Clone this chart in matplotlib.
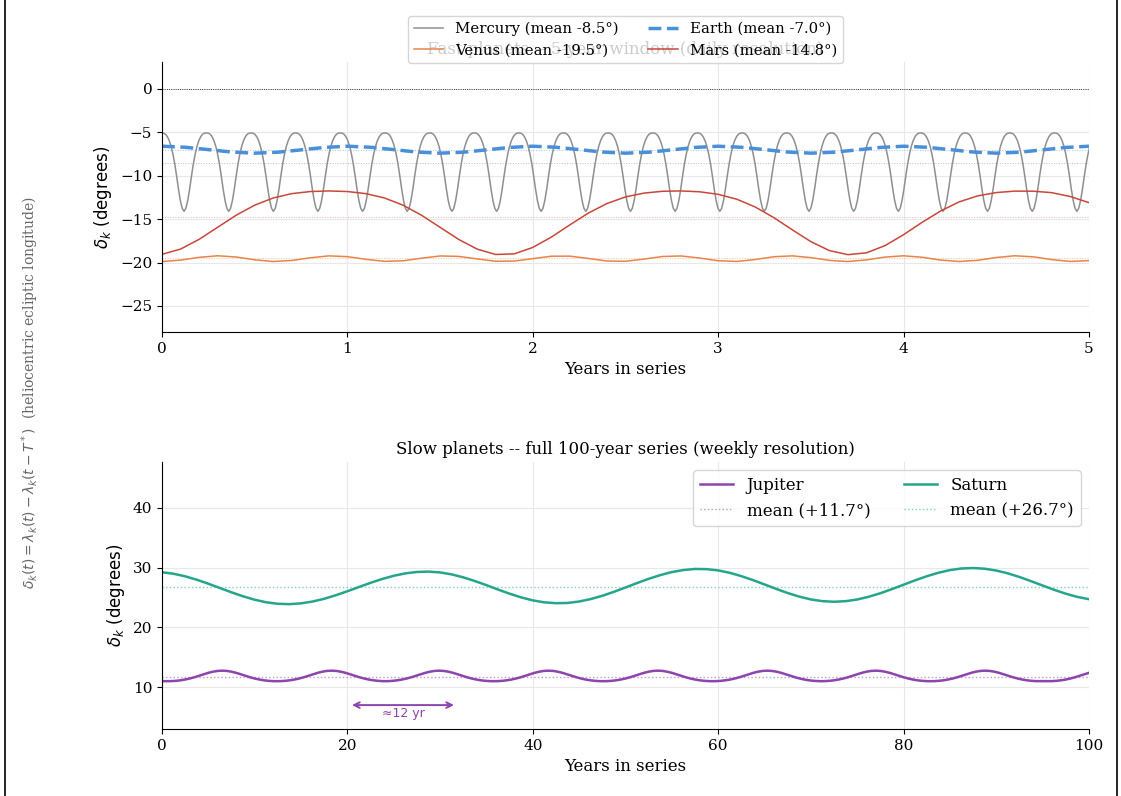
import numpy as np
import matplotlib
matplotlib.use("Agg")
import matplotlib.pyplot as plt
from matplotlib.lines import Line2D

plt.rcParams['font.family'] = 'serif'
plt.rcParams['xtick.labelsize'] = 11
plt.rcParams['ytick.labelsize'] = 11

# ---- fast planets (5-year window) ----
# Mercury: one cycle shape around a trough, and the trough times
mercury_offsets = [-0.12, -0.11, -0.10, -0.09, -0.08, -0.07, -0.06, -0.05, -0.04, -0.03, -0.02, -0.01,
                   0.00, 0.01, 0.02, 0.03, 0.04, 0.05, 0.06, 0.07, 0.08, 0.09, 0.10, 0.11]
mercury_shape = [-5.07, -5.10, -5.22, -5.50, -5.95, -6.60, -7.50, -8.65, -10.05, -11.55, -12.85, -13.75,
                 -14.10, -13.75, -12.85, -11.55, -10.05, -8.65, -7.50, -6.60, -5.95, -5.50, -5.22, -5.10]
mercury_troughs = [0.119, 0.360, 0.601, 0.841, 1.082, 1.323, 1.564, 1.805, 2.045, 2.286, 2.527,
                   2.768, 3.009, 3.249, 3.490, 3.731, 3.972, 4.213, 4.453, 4.694, 4.935]
mercury_mean = -8.5

earth_years = np.arange(0, 5.001, 0.125)
earth_vals = [-6.60, -6.72, -6.99, -7.27, -7.40, -7.29, -7.02, -6.74,
              -6.60, -6.72, -6.99, -7.27, -7.40, -7.29, -7.02, -6.74,
              -6.60, -6.72, -6.99, -7.27, -7.40, -7.29, -7.02, -6.74,
              -6.60, -6.72, -6.99, -7.27, -7.40, -7.29, -7.02, -6.74,
              -6.60, -6.72, -6.99, -7.27, -7.40, -7.29, -7.02, -6.74,
              -6.60]
earth_mean = -7.0

fast_years = np.arange(0, 5.001, 0.1)
venus_vals = [-19.88, -19.72, -19.40, -19.22, -19.36, -19.68, -19.88, -19.76, -19.45, -19.23,
              -19.32, -19.63, -19.86, -19.80, -19.50, -19.24, -19.29, -19.58, -19.85, -19.83,
              -19.55, -19.27, -19.26, -19.53, -19.82, -19.85, -19.60, -19.30, -19.24, -19.48,
              -19.79, -19.87, -19.65, -19.33, -19.23, -19.43, -19.75, -19.88, -19.69, -19.37,
              -19.22, -19.39, -19.71, -19.88, -19.74, -19.42, -19.22, -19.34, -19.66, -19.87,
              -19.78]
venus_mean = -19.5

mars_vals = [-19.05, -18.45, -17.33, -15.94, -14.55, -13.39, -12.56, -12.06, -11.82, -11.75,
             -11.82, -12.06, -12.56, -13.39, -14.55, -15.94, -17.33, -18.45, -19.07, -19.00,
             -18.26, -17.07, -15.66, -14.30, -13.20, -12.44, -12.00, -11.79, -11.75, -11.85,
             -12.14, -12.70, -13.60, -14.82, -16.23, -17.59, -18.62, -19.09, -18.88, -18.05,
             -16.79, -15.37, -14.06, -13.01, -12.32, -11.94, -11.77, -11.78, -11.95, -12.40,
             -13.10]
mars_mean = -14.8

# ---- slow planets (100-year series) ----
# Jupiter: one cycle shape around a peak, and the peak times
jupiter_offsets = [-6.0, -5.5, -5.0, -4.5, -4.0, -3.5, -3.0, -2.5, -2.0, -1.5, -1.0, -0.5,
                   0.0, 0.5, 1.0, 1.5, 2.0, 2.5, 3.0, 3.5, 4.0, 4.5, 5.0, 5.5]
jupiter_shape = [11.00, 11.01, 11.06, 11.15, 11.28, 11.45, 11.66, 11.91, 12.16, 12.40, 12.59, 12.72,
                 12.76, 12.72, 12.59, 12.40, 12.16, 11.91, 11.66, 11.45, 11.28, 11.15, 11.06, 11.01]
jupiter_peaks = [-5.3, 6.5, 18.3, 29.9, 41.7, 53.5, 65.3, 77.0, 88.8, 101.5]
jupiter_mean = 11.7

saturn_years = np.arange(0, 100.01, 1.25)
saturn_vals = [29.24, 28.99, 28.56, 27.99, 27.32, 26.60, 25.88, 25.21, 24.64, 24.21,
               23.96, 23.90, 24.03, 24.34, 24.80, 25.39, 26.06, 26.77, 27.47, 28.11,
               28.65, 29.05, 29.29, 29.35, 29.21, 28.88, 28.39, 27.77, 27.08, 26.35,
               25.65, 25.03, 24.53, 24.20, 24.06, 24.10, 24.34, 24.75, 25.30, 25.96,
               26.69, 27.43, 28.14, 28.76, 29.27, 29.61, 29.79, 29.76, 29.55, 29.15,
               28.59, 27.93, 27.20, 26.46, 25.76, 25.16, 24.69, 24.40, 24.30, 24.40,
               24.68, 25.14, 25.73, 26.42, 27.15, 27.89, 28.57, 29.15, 29.60, 29.87,
               29.95, 29.83, 29.53, 29.06, 28.45, 27.75, 27.02, 26.30, 25.65, 25.11,
               24.73]
saturn_mean = 26.7

c_merc = '#8f8f8f'
c_venus = '#e8844a'
c_earth = '#4a90d9'
c_mars = '#c8473a'
c_jup = '#8e44ad'
c_sat = '#25a58a'

# build the periodic polylines from their cycle shapes
merc_t, merc_v = [], []
for tr in mercury_troughs:
    for d, v in zip(mercury_offsets, mercury_shape):
        merc_t.append(tr + d)
        merc_v.append(v)

jup_t, jup_v = [], []
for pk in jupiter_peaks:
    for d, v in zip(jupiter_offsets, jupiter_shape):
        jup_t.append(pk + d)
        jup_v.append(v)

fig = plt.figure(figsize=(11.21, 7.96), dpi=100)
ax1 = fig.add_axes([0.1445, 0.5829, 0.8269, 0.3392])
ax2 = fig.add_axes([0.1445, 0.0842, 0.8269, 0.3354])

# top panel
ax1.axhline(0, color='black', lw=0.6, ls=':')
ax1.plot(merc_t, merc_v, color=c_merc, lw=1.1, label='Mercury (mean %.1f°)' % mercury_mean)
ax1.axhline(mercury_mean, color=c_merc, lw=0.7, ls=':', alpha=0.6)
ax1.plot(fast_years, venus_vals, color=c_venus, lw=1.1, label='Venus (mean %.1f°)' % venus_mean)
ax1.axhline(venus_mean, color=c_venus, lw=0.7, ls=':', alpha=0.5)
ax1.plot(earth_years, earth_vals, color=c_earth, lw=2.5, ls='--', label='Earth (mean %.1f°)' % earth_mean)
ax1.axhline(earth_mean, color=c_earth, lw=0.7, ls=':', alpha=0.5)
ax1.plot(fast_years, mars_vals, color=c_mars, lw=1.1, label='Mars (mean %.1f°)' % mars_mean)
ax1.axhline(mars_mean, color=c_mars, lw=0.7, ls=':', alpha=0.4)

ax1.set_xlim(0, 5)
ax1.set_ylim(-28, 3.1)
ax1.set_yticks([-25, -20, -15, -10, -5, 0])
ax1.grid(True, color='#e8e8e8', lw=0.8)
ax1.set_axisbelow(True)
ax1.set_title('Fast planets -- 5-year window (daily resolution)', fontsize=12)
ax1.set_xlabel('Years in series', fontsize=12)
ax1.set_ylabel(r'$\delta_k$ (degrees)', fontsize=12, fontfamily='DejaVu Sans')
ax1.legend(loc='center', bbox_to_anchor=(0.5, 1.083), ncol=2, fontsize=10.7)

# bottom panel
ax2.plot(jup_t, jup_v, color=c_jup, lw=1.8, label='Jupiter')
ax2.axhline(jupiter_mean, color=c_jup, lw=1.0, ls=':', alpha=0.55, label='mean (+%.1f°)' % jupiter_mean)
ax2.plot(saturn_years, saturn_vals, color=c_sat, lw=1.8, label='Saturn')
ax2.axhline(saturn_mean, color=c_sat, lw=1.0, ls=':', alpha=0.55, label='mean (+%.1f°)' % saturn_mean)

ax2.annotate('', xy=(20.2, 7.0), xytext=(31.8, 7.0),
             arrowprops=dict(arrowstyle='<->', color=c_jup, lw=1.4))
ax2.text(26.0, 6.6, '≈12 yr', color=c_jup, fontsize=9, ha='center', va='top', fontfamily='DejaVu Sans')

ax2.set_xlim(0, 100)
ax2.set_ylim(3.0, 47.7)
ax2.set_yticks([10, 20, 30, 40])
ax2.grid(True, color='#e8e8e8', lw=0.8)
ax2.set_axisbelow(True)
ax2.set_title('Slow planets -- full 100-year series (weekly resolution)', fontsize=12)
ax2.set_xlabel('Years in series', fontsize=12)
ax2.set_ylabel(r'$\delta_k$ (degrees)', fontsize=12, fontfamily='DejaVu Sans')
ax2.legend(loc='upper right', ncol=2, fontsize=12)

for ax in (ax1, ax2):
    ax.spines['top'].set_visible(False)
    ax.spines['right'].set_visible(False)

fig.text(0.027, 0.507,
         r'$\delta_k(t) = \lambda_k(t) - \lambda_k(t - T^*)$  (heliocentric ecliptic longitude)',
         rotation=90, ha='center', va='center', fontsize=10, color='#666666')

# frame lines at the figure edges
fig.add_artist(Line2D([5 / 1121, 5 / 1121], [0, 1], transform=fig.transFigure, color='black', lw=1.2))
fig.add_artist(Line2D([1117 / 1121, 1117 / 1121], [0, 1], transform=fig.transFigure, color='black', lw=1.2))

fig.savefig('out.png', dpi=100)
